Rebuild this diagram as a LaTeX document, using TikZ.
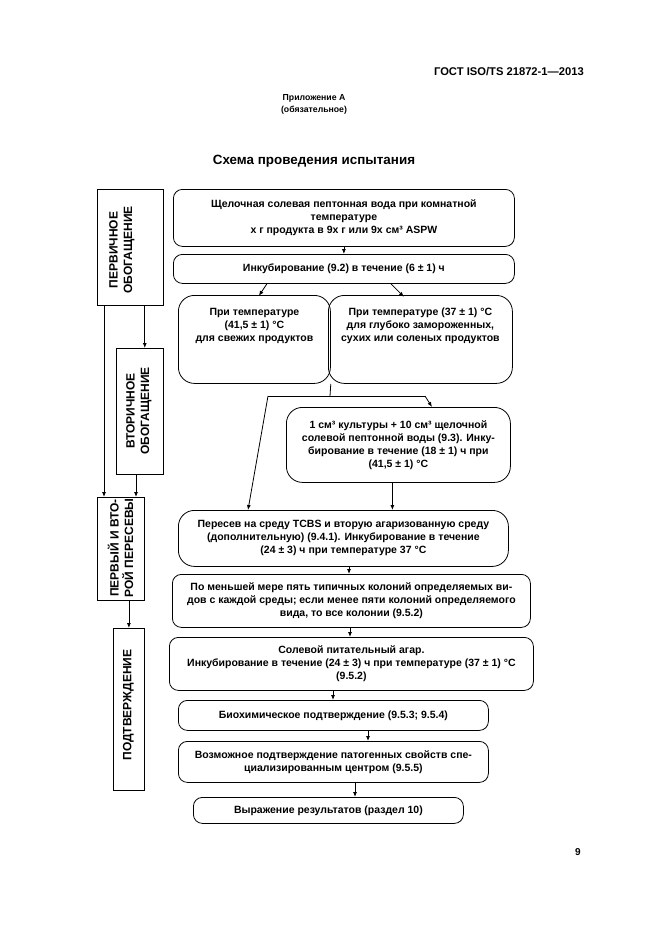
\documentclass[tikz,border=0pt]{standalone}
\usepackage{fontspec}
\setmainfont{Liberation Sans}
\usetikzlibrary{arrows.meta}
\tikzset{
  rbox/.style={draw, line width=0.8pt, rounded corners=9pt, anchor=north west, inner sep=0pt,
    align=center, font=\fontsize{10.5pt}{13pt}\selectfont\bfseries},
  bigr/.style={rbox, rounded corners=16pt},
  sbox/.style={draw, line width=0.8pt, anchor=north west, inner sep=0pt},
  vlbl/.style={rotate=90, align=center, inner sep=0pt, font=\fontsize{12pt}{14.5pt}\selectfont\bfseries},
  txt/.style={align=center, inner sep=0pt, font=\fontsize{10.5pt}{13pt}\selectfont\bfseries},
  arr/.style={line width=0.8pt, -{Latex[length=5pt,width=4pt]}},
  ln/.style={line width=0.8pt}
}
\begin{document}
\begin{tikzpicture}[x=1pt,y=-1pt]
\useasboundingbox (0,0) rectangle (661,935);
\fill[white] (0,0) rectangle (661,935);

% header
\node[anchor=east, inner sep=0pt, font=\fontsize{11.2pt}{12pt}\selectfont\bfseries] (gost) at (584,72) {ГОСТ ISO/TS 21872-1—2013};
\node[align=center, inner sep=0pt, font=\fontsize{8.7pt}{12pt}\selectfont\bfseries] (app) at (314,104) {Приложение А\\(обязательное)};
\node[inner sep=0pt, font=\fontsize{13.4pt}{14pt}\selectfont\bfseries] (title) at (314,161) {Схема проведения испытания};
\node[inner sep=0pt, font=\fontsize{10pt}{12pt}\selectfont\bfseries] (page) at (578,852) {9};

% left column
\node[sbox, minimum width=66, minimum height=116] (L1) at (97,189) {};
\node[vlbl] (L1t) at (122,250) {ПЕРВИЧНОЕ\\ОБОГАЩЕНИЕ};
\node[sbox, minimum width=47, minimum height=126] (L2) at (116,348) {};
\node[vlbl] (L2t) at (139,411) {ВТОРИЧНОЕ\\ОБОГАЩЕНИЕ};
\node[sbox, minimum width=47, minimum height=103] (L3) at (97,497) {};
\node[vlbl] (L3t) at (120.5,548) {ПЕРВЫЙ И ВТО-\\РОЙ ПЕРЕСЕВЫ};
\node[sbox, minimum width=31, minimum height=162] (L4) at (113,628) {};
\node[vlbl] (L4t) at (128.5,705) {ПОДТВЕРЖДЕНИЕ};

\draw[arr] ([xshift=7pt]L1.south west) -- ([xshift=7pt]L3.north west);
\draw[arr] ([xshift=-19pt]L1.south east) -- ([xshift=-19pt]L1.south east |- L2.north);
\draw[arr] ([xshift=20pt]L2.south west) -- ([xshift=20pt]L2.south west |- L3.north);
\draw[arr] (L4.north |- L3.south) -- (L4.north);

% main column
\node[rbox, minimum width=341, minimum height=57] (b1) at (173,189) {Щелочная солевая пептонная вода при комнатной\\температуре\\х г продукта в 9х г или 9х см³ ASPW};
\node[rbox, minimum width=341, minimum height=29] (b2) at (173,254) {Инкубирование (9.2) в течение (6 ± 1) ч};
\node[bigr, minimum width=152, minimum height=88] (b3a) at (178,295) {};
\node[txt, anchor=north] (b3at) at ([yshift=-13pt]b3a.north) {При температуре\\(41,5 ± 1) °C\\для свежих продуктов};
\node[bigr, minimum width=184, minimum height=88] (b3b) at (328,295) {};
\node[txt, anchor=north] (b3bt) at ([yshift=-13pt]b3b.north) {При температуре (37 ± 1) °C\\для глубоко замороженных,\\сухих или соленых продуктов};
\node[bigr, minimum width=224, minimum height=75] (b4) at (286,407) {1 см³ культуры + 10 см³ щелочной\\солевой пептонной воды (9.3). Инку-\\бирование в течение (18 ± 1) ч при\\(41,5 ± 1) °C};
\node[bigr, minimum width=330, minimum height=56] (b5) at (178,510) {Пересев на среду TCBS и вторую агаризованную среду\\(дополнительную) (9.4.1). Инкубирование в течение\\(24 ± 3) ч при температуре 37 °C};
\node[rbox, minimum width=358, minimum height=53] (b6) at (172,574) {По меньшей мере пять типичных колоний определяемых ви-\\дов с каждой среды; если менее пяти колоний определяемого\\вида, то все колонии (9.5.2)};
\node[rbox, minimum width=364, minimum height=53] (b7) at (169,637) {Солевой питательный агар.\\Инкубирование в течение (24 ± 3) ч при температуре (37 ± 1) °C\\(9.5.2)};
\node[rbox, minimum width=310, minimum height=30] (b8) at (178,700) {Биохимическое подтверждение (9.5.3; 9.5.4)};
\node[rbox, minimum width=310, minimum height=41] (b9) at (178,741) {Возможное подтверждение патогенных свойств спе-\\циализированным центром (9.5.5)};
\node[rbox, minimum width=270, minimum height=26] (b10) at (193,797) {Выражение результатов (раздел 10)};

% connectors
\draw[arr] (b1.south) -- (b2.north);
\draw[arr] ([xshift=-77pt]b2.south) -- ([xshift=-85pt,yshift=-12pt]b2.south);
\draw[arr] ([xshift=47pt]b2.south) -- ([xshift=60pt,yshift=-13pt]b2.south);
\coordinate (j) at (330,396);
\coordinate (jl) at (268,396);
\coordinate (jr) at (425,396);
\draw[ln] (b3a.south east) -- (j);
\draw[ln] (jl) -- (jr);
\draw[arr] (jr) -- ([xshift=146pt]b4.north west);
\draw[arr] (jl) -- ([xshift=70pt]b5.north west);
\draw[arr] ([xshift=-6pt]b4.south) -- ([xshift=-6pt]b4.south |- b5.north);
\draw[arr] ([xshift=171pt]b5.south west) -- ([xshift=171pt]b5.south west |- b6.north);
\draw[arr] ([xshift=178pt]b6.south west) -- ([xshift=178pt]b6.south west |- b7.north);
\draw[arr] ([xshift=164pt]b7.south west) -- ([xshift=164pt]b7.south west |- b8.north);
\draw[arr] ([xshift=190pt]b8.south west) -- ([xshift=190pt]b8.south west |- b9.north);
\draw[arr] ([xshift=177pt]b9.south west) -- ([xshift=177pt]b9.south west |- b10.north);
\end{tikzpicture}
\end{document}
